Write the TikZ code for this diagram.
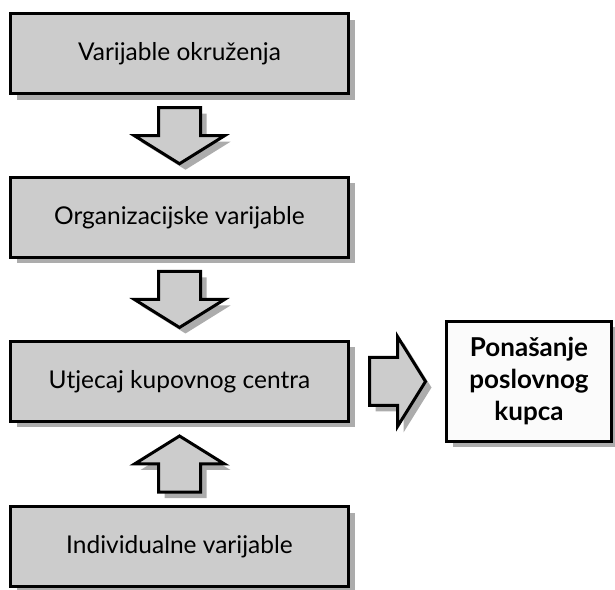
\documentclass[tikz,border=0pt]{standalone}
\usepackage{fontspec}
\setmainfont{Lato}
\usetikzlibrary{calc,shadows}

\tikzset{
	box/.style={draw,line width=3pt,fill=gray!40,minimum width=338,minimum height=80,font=\fontsize{24.5}{29}\selectfont,drop shadow={shadow xshift=6pt,shadow yshift=-6pt,fill=gray!65,opacity=1}},
	result/.style={box,fill=gray!3,minimum width=165,minimum height=120,align=center,font=\fontsize{26}{32}\selectfont\bfseries},
	arrowshadow/.style={fill=gray!65},
	blockarrow/.style={draw,line width=3pt,fill=gray!40}
}

\begin{document}
\begin{tikzpicture}[x=1pt,y=1pt]
			\useasboundingbox (0,0) rectangle (615,589);
			\node[box] (okr) at (179.5,535) {Varijable okruženja};
			\node[box] (org) at (179.5,371.5) {Organizacijske varijable};
			\node[box] (kup) at (179.5,207.5) {Utjecaj kupovnog centra};
			\node[box] (ind) at (179.5,42.5) {Individualne varijable};
			\node[result] (pon) at (529,207.5) {Ponašanje\\poslovnog\\kupca};
			\foreach \a/\b/\r/\w in {okr.south/org.north/-90/21,org.south/kup.north/-90/21,ind.north/kup.south/90/21,kup.east/pon.west/0/24}
			\foreach \s/\st in {6/arrowshadow,0/blockarrow}
			\path[\st,shift={($(\a)!.5!(\b)$)},shift={(\s,-\s)},rotate=\r] (-28,\w) -- (0,\w) -- (0,45) -- (28,0) -- (0,-45) -- (0,-\w) -- (-28,-\w) -- cycle;
		\end{tikzpicture}
\end{document}
